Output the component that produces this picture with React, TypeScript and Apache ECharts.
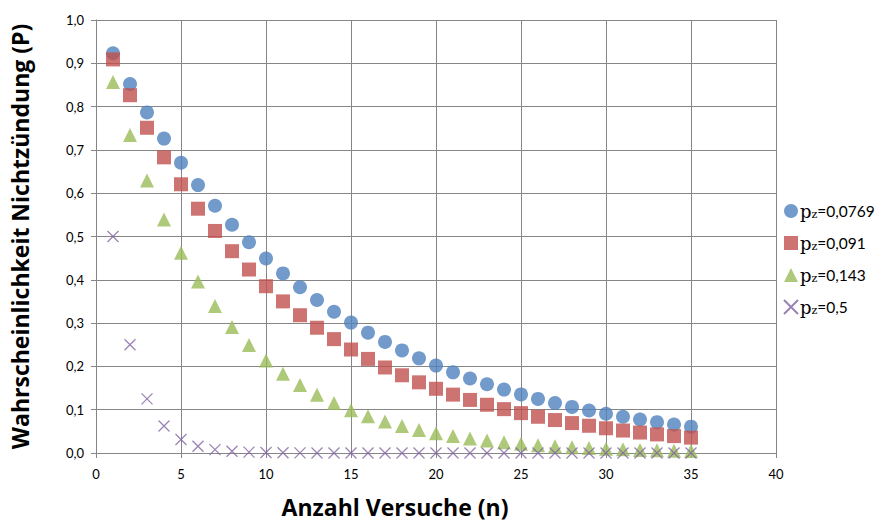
import React, { useEffect, useRef } from "react";
import * as echarts from "echarts";

const nValues = [1,2,3,4,5,6,7,8,9,10,11,12,13,14,15,16,17,18,19,20,21,22,23,24,25,26,27,28,29,30,31,32,33,34,35];
const seriesNames = ["0,0769", "0,091", "0,143", "0,5"];
const blueP = [0.9231,0.8521,0.7866,0.7261,0.6703,0.6187,0.5711,0.5272,0.4866,0.4492,0.4147,0.3828,0.3534,0.3262,0.3011,0.2780,0.2566,0.2369,0.2186,0.2018,0.1863,0.1720,0.1588,0.1465,0.1353,0.1249,0.1153,0.1064,0.0982,0.0907,0.0837,0.0773,0.0713,0.0658,0.0608];
const redP = [0.909,0.8263,0.7511,0.6828,0.6206,0.5642,0.5128,0.4661,0.4237,0.3852,0.3501,0.3182,0.2893,0.2630,0.2390,0.2173,0.1975,0.1795,0.1632,0.1483,0.1348,0.1226,0.1114,0.1013,0.0921,0.0837,0.0761,0.0691,0.0629,0.0571,0.0519,0.0472,0.0429,0.0390,0.0355];
const greenP = [0.857,0.7344,0.6294,0.5394,0.4623,0.3962,0.3395,0.2910,0.2494,0.2137,0.1832,0.1570,0.1345,0.1153,0.0988,0.0847,0.0725,0.0622,0.0533,0.0457,0.0391,0.0335,0.0288,0.0246,0.0211,0.0181,0.0155,0.0133,0.0114,0.0098,0.0084,0.0072,0.0061,0.0053,0.0045];
const purpleP = [0.5,0.25,0.125,0.0625,0.0313,0.0156,0.0078,0.0039,0.002,0.001,0.0005,0.0002,0.0001,0,0,0,0,0,0,0,0,0,0,0,0,0,0,0,0,0,0,0,0,0,0];

const FONT = "Lato, 'Open Sans', sans-serif";
const TITLE_FONT = "'Open Sans', Lato, sans-serif";
const SERIF = "'DejaVu Serif', 'Liberation Serif', serif";
const CROSS = "path://M0,0L10,10M10,0L0,10";
const KEYS = ["a", "b", "c", "d"];

export default function App() {
  const ref = useRef<HTMLDivElement>(null);
  useEffect(() => {
    if (!ref.current) return;
    const chart = echarts.init(ref.current, null, { renderer: "svg" });
    const pair = (arr: number[]) => nValues.map((n, i) => [n, arr[i]]);
    const colors = ["#4F81BD", "#C0504D", "#9BBB59", "#8064A2"];
    chart.setOption({
      animation: false,
      backgroundColor: "#ffffff",
      grid: { left: 96, right: 106, top: 20, bottom: 70, outerBoundsMode: "none", containLabel: false },
      legend: {
        orient: "vertical",
        left: 778,
        top: 197,
        itemGap: 14,
        itemWidth: 14,
        itemHeight: 14,
        data: KEYS.map((k) => ({ name: k })),
        formatter: (name: string) => {
          const idx = KEYS.indexOf(name);
          return "{p|p}{s|z}{t|=" + seriesNames[idx] + "}";
        },
        textStyle: {
          color: "#000",
          fontFamily: FONT,
          padding: [0, 0, 0, -3],
          rich: {
            p: { fontFamily: SERIF, fontSize: 18, color: "#000" },
            s: { fontFamily: SERIF, fontSize: 11, color: "#000", verticalAlign: "bottom", padding: [6, 0, 0, 0] },
            t: { fontFamily: FONT, fontSize: 15.5, color: "#000" },
          },
        },
      },
      xAxis: {
        type: "value",
        min: 0,
        max: 40,
        interval: 5,
        name: "Anzahl Versuche (n)",
        nameLocation: "middle",
        nameGap: 42,
        nameTextStyle: { fontFamily: TITLE_FONT, fontWeight: "bold", fontSize: 23, color: "#000", padding: [0, 82, 0, 0] },
        axisLine: { show: true, lineStyle: { color: "#868686" } },
        axisTick: { show: true, length: 5, lineStyle: { color: "#868686" } },
        axisLabel: { fontFamily: FONT, fontSize: 13, color: "#000", margin: 14 },
        splitLine: { show: true, lineStyle: { color: "#868686", width: 1 } },
      },
      yAxis: {
        type: "value",
        min: 0,
        max: 1,
        interval: 0.1,
        name: "Wahrscheinlichkeit Nichtzündung (P)",
        nameLocation: "middle",
        nameGap: 65,
        nameTextStyle: { fontFamily: TITLE_FONT, fontWeight: "bold", fontSize: 23, color: "#000" },
        axisLine: { show: true, lineStyle: { color: "#868686" } },
        axisTick: { show: true, length: 5, lineStyle: { color: "#868686" } },
        axisLabel: {
          fontFamily: FONT,
          fontSize: 13,
          color: "#000",
          margin: 12,
          formatter: (v: number) => v.toFixed(1).replace(".", ","),
        },
        splitLine: { show: true, lineStyle: { color: "#868686", width: 1 } },
      },
      series: [
        { name: "a", type: "scatter", data: pair(blueP), symbol: "circle", symbolSize: 14, itemStyle: { color: colors[0] } },
        { name: "b", type: "scatter", data: pair(redP), symbol: "rect", symbolSize: 14, itemStyle: { color: colors[1] } },
        { name: "c", type: "scatter", data: pair(greenP), symbol: "triangle", symbolSize: 14, itemStyle: { color: colors[2] } },
        {
          name: "d",
          type: "scatter",
          data: pair(purpleP),
          symbol: CROSS,
          symbolSize: 11,
          itemStyle: { color: "rgba(0,0,0,0)", borderColor: colors[3], borderWidth: 1.3 },
        },
      ],
    });
    return () => chart.dispose();
  }, []);
  return <div ref={ref} style={{ width: 882, height: 523, position: "absolute", left: 0, top: 0 }} />;
}
